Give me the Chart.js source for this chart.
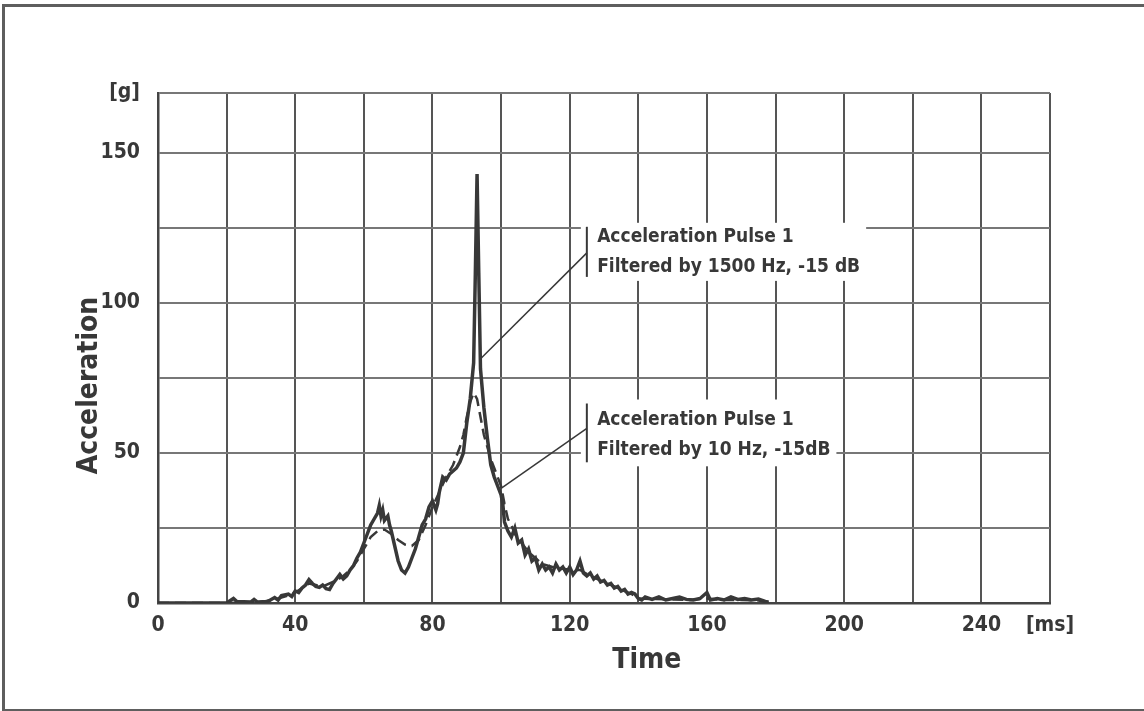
<!DOCTYPE html>
<html>
<head>
<meta charset="utf-8">
<script src="https://cdn.jsdelivr.net/npm/chart.js@4/dist/chart.umd.min.js"></script>
<style>
  html, body { margin: 0; padding: 0; background: #fff; }
  #wrap { position: relative; width: 1144px; height: 711px; overflow: hidden; }
  #c { position: absolute; left: 0; top: 0; }
  #frame { position: absolute; left: 2px; top: 4px; width: 1150px; height: 702px;
           border-top: 3px solid #5e5e5e; border-left: 3px solid #5e5e5e; border-bottom: 4px solid #5e5e5e;
           pointer-events: none; }
</style>
</head>
<body>
<div id="wrap">
  <canvas id="c" width="1144" height="711"></canvas>
  <div id="frame"></div>
</div>
<script>
// ---- Data (time in ms, acceleration in g) ----
const pulse1500Time = [0,20,22,23,27,28,29,32,34,35,36,38,39,40,41,42,43,44,45,46,47,48,49,50,51,52,53,54,55,56,57,58,59,60,61,62,63,64,64.5,65,65.5,66,67,67.5,68,69,70,71,72,73,74,75,76,77,78,79,80,81,81.5,82,83,84,85,86,87,88,89,90,91,92,92.5,93,93.5,94,95,96,97,98,99,100,100.5,101,102,103,104,105,106,107,108,109,110,111,112,113,114,115,116,117,118,119,120,121,122,123,124,125,126,127,128,129,130,131,132,133,134,135,136,137,138,139,140,141,142,144,146,148,150,152,154,156,158,160,161,163,165,167,169,171,173,175,177,178];
const pulse1500Accel = [0,0,1.5,0.5,0.3,1.2,0.3,0.5,1.8,1,2.5,3,2.2,4,3.5,5,6,7.8,6.5,5.5,5.2,6,4.8,4.5,6.5,8,9.5,8,9,11,12.5,15,17,20,23,26,28,30,32.5,29,31,27.5,29,26,24,19,14,11,10,12,15,18,22,26,28,32,34,31,33,37,42,41,43,44,45,47,50,60,68,80,110,143,110,78,65,55,46,42,39,36,33,27,24,22,25,20,21,16,18,14,15,11,13,11,12,10,13,11,12,10,12,9.5,11,14,10,9,10,8,9,7,7.5,6,6.5,5,5.5,4,4.5,3,3.5,3,1.5,1,2,1.2,2,1,1.5,2,1.2,1,1.5,3.5,1,1.5,1,2,1.2,1.5,1,1.3,0.5,0.3];

const pulse10Time = [0,20,30,35,38,40,42,44,46,48,50,52,54,56,58,60,62,64,66,68,70,72,74,76,78,80,82,84,86,88,89,90,91,92,93,94,95,96,97,98,99,100,101,102,103,104,106,108,110,112,115,118,120,123,126,130,134,138,140,145,150,155,160,165,170,175,178];
const pulse10Accel = [0,0,0.3,1.5,2.5,3.5,5,6.5,6,5.5,6.5,7.5,9,11,14,18,22,24,24.5,23,21,19.5,19,21,26,32,37,42,46,52,56,62,67,70,68,62,56,52,48,45,42,39,33,28,26,23,20,17,15,13,12,11.5,11,11,9,7,5,3,1.5,1.3,1.2,1,1.5,1,1,0.8,0.3];

const xTickValues = [0,20,40,60,80,100,120,140,160,180,200,220,240,260];
const xTickLabels = ['0','','40','','80','','120','','160','','200','','240','[ms]'];
const yTickValues = [0,25,50,75,100,125,150,170];
const yTickLabels = ['0','','50','','100','','150','[g]'];

const seriesNames = ['Acceleration Pulse 1 (1500 Hz, -15 dB)', 'Acceleration Pulse 1 (10 Hz, -15 dB)'];
const annotationLines = [
  ['Acceleration Pulse 1', 'Filtered by 1500 Hz, -15 dB'],
  ['Acceleration Pulse 1', 'Filtered by 10 Hz, -15dB']
];
// label anchor (time, accel), bar range, leader target
const annotationAnchors = [
  {x: 128, y1: 122, y2: 112, barX: 125, barTop: 125.4, barBot: 108.7, fromY: 116.7, toX: 94.1, toY: 81.5},
  {x: 128, y1: 61, y2: 51, barX: 125, barTop: 66.5, barBot: 46.9, fromY: 58.2, toX: 100, toY: 38.2}
];
const xTitle = 'Time';
const yTitle = 'Acceleration';

const FONT = '"DejaVu Sans Condensed", "Liberation Sans", sans-serif';
const INK = '#383838';

const toXY = (xs, ys) => xs.map((x, i) => ({x: x, y: ys[i]}));

const annotationPlugin = {
  id: 'annots',
  afterDatasetsDraw(chart) {
    const {ctx, scales: {x, y}} = chart;
    ctx.save();
    ctx.font = 'bold 19px ' + FONT;
    ctx.textBaseline = 'middle';
    ctx.textAlign = 'left';
    annotationAnchors.forEach((a, i) => {
      const lx = x.getPixelForValue(a.x);
      const lines = annotationLines[i];
      const w = Math.max(...lines.map(t => ctx.measureText(t).width));
      const top = y.getPixelForValue(a.barTop) - 4;
      const bot = y.getPixelForValue(a.barBot) + 4;
      const bx = x.getPixelForValue(a.barX);
      ctx.fillStyle = '#fff';
      ctx.fillRect(bx - 6, top, lx - bx + w + 12, bot - top);
      ctx.strokeStyle = INK;
      ctx.lineWidth = 2;
      ctx.beginPath();
      ctx.moveTo(bx, y.getPixelForValue(a.barTop));
      ctx.lineTo(bx, y.getPixelForValue(a.barBot));
      ctx.stroke();
      ctx.lineWidth = 1.5;
      ctx.beginPath();
      ctx.moveTo(bx, y.getPixelForValue(a.fromY));
      ctx.lineTo(x.getPixelForValue(a.toX), y.getPixelForValue(a.toY));
      ctx.stroke();
      ctx.fillStyle = INK;
      ctx.fillText(lines[0], lx, y.getPixelForValue(a.y1));
      ctx.fillText(lines[1], lx, y.getPixelForValue(a.y2));
    });
    ctx.font = 'bold 28px ' + FONT;
    ctx.fillStyle = INK;
    ctx.textAlign = 'center';
    ctx.fillText(xTitle, x.getPixelForValue(142.5), 661);
    ctx.save();
    ctx.translate(90, y.getPixelForValue(72.5));
    ctx.rotate(-Math.PI / 2);
    ctx.fillText(yTitle, 0, 0);
    ctx.restore();
    ctx.restore();
  }
};

new Chart(document.getElementById('c'), {
  type: 'line',
  data: {
    datasets: [
      {label: seriesNames[0], data: toXY(pulse1500Time, pulse1500Accel), borderColor: INK, borderWidth: 3.5,
       pointRadius: 0, tension: 0, fill: false, order: 1},
      {label: seriesNames[1], data: toXY(pulse10Time, pulse10Accel), borderColor: INK, borderWidth: 2.5,
       borderDash: [11, 6], pointRadius: 0, tension: 0, fill: false, order: 2}
    ]
  },
  options: {
    responsive: false,
    animation: false,
    devicePixelRatio: 1,
    layout: {padding: {left: 0, top: 93, right: 94, bottom: 0}},
    plugins: {legend: {display: false}, tooltip: {enabled: false}},
    scales: {
      x: {
        type: 'linear', min: 0, max: 260,
        afterBuildTicks: s => { s.ticks = xTickValues.map(v => ({value: v})); },
        afterFit: s => { s.height = 108; },
        ticks: {
          autoSkip: false, maxRotation: 0, padding: 10, color: INK,
          font: {family: FONT, size: 21, weight: 'bold'},
          callback: (v) => xTickLabels[xTickValues.indexOf(v)] ?? ''
        },
        grid: {color: '#555', lineWidth: 2, drawTicks: false},
        border: {color: '#444', width: 2.5}
      },
      y: {
        type: 'linear', min: 0, max: 170,
        afterBuildTicks: s => { s.ticks = yTickValues.map(v => ({value: v})); },
        afterFit: s => { s.width = 158; },
        ticks: {
          autoSkip: false, padding: 18, color: INK,
          font: {family: FONT, size: 21, weight: 'bold'},
          callback: (v) => yTickLabels[yTickValues.indexOf(v)] ?? ''
        },
        grid: {color: '#777', lineWidth: 2, drawTicks: false},
        border: {color: '#444', width: 2.5}
      }
    }
  },
  plugins: [annotationPlugin]
});
</script>
</body>
</html>
